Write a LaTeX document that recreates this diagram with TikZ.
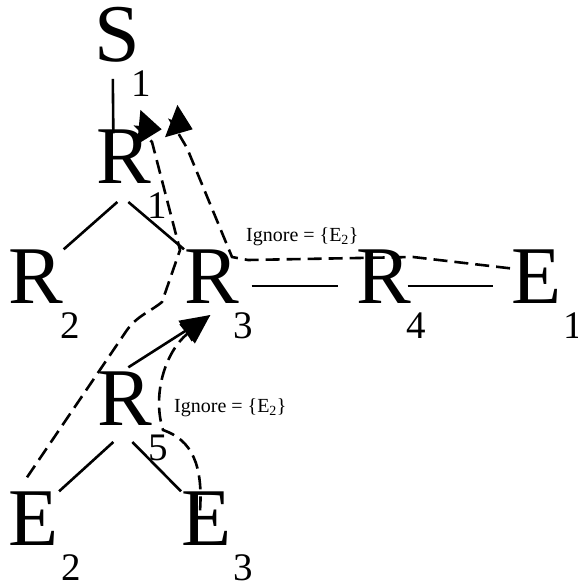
\documentclass[tikz,border=0pt]{standalone}
\usepackage{fontspec}
\setmainfont{Liberation Serif}
\usetikzlibrary{arrows.meta}

\newcommand{\bigsz}{\fontsize{82}{82}\selectfont}
\newcommand{\subsz}{\fontsize{39}{39}\selectfont}
\newcommand{\lblsz}{\fontsize{20}{20}\selectfont}
\newcommand{\subidx}[2][-3pt]{\rlap{\smash{\raisebox{-35pt}{\hspace*{#1}\subsz #2}}}}

\tikzset{
  vertex/.style={inner sep=0pt, outer sep=0pt, anchor=base west, font=\bigsz},
  link/.style={line width=2.6pt},
  walk/.style={line width=2.6pt, dash pattern=on 14pt off 7pt},
  walkarrow/.style={-{Triangle[length=23pt,width=34pt]}},
  headarrow/.style={-{Triangle[length=30pt,width=24pt]}},
  ignorelbl/.style={inner sep=0pt, anchor=base west, font=\lblsz}
}

\begin{document}
\begin{tikzpicture}[x=1pt, y=-1pt]
\useasboundingbox (0,0) rectangle (577,585);

% Draw the vertices
\node[vertex] (s1) at (94,62) {S\subidx[-8pt]{1}};
\node[vertex] (r1) at (96,183) {R\subidx{1}};
\node[vertex] (r2) at (9,303) {R\subidx{2}};
\node[vertex] (r3) at (184,303) {R\subidx[-5pt]{3}};
\node[vertex] (r4) at (356,303) {R\subidx[-4pt]{4}};
\node[vertex] (e1) at (511,303) {E\subidx[2pt]{1}};
\node[vertex] (r5) at (97,425) {R\subidx{5}};
\node[vertex] (e2) at (9,545) {E\subidx[2pt]{2}};
\node[vertex] (e3) at (181,545) {E\subidx[2pt]{3}};

% Draw the tree edges
\draw[link] ([shift={(-4,16)}]s1.south) -- ([shift={(-10,4)}]r1.north);
\draw[link] ([shift={(-6,19)}]r1.south) -- (r2.north east);
\draw[link] ([shift={(5,19)}]r1.south) -- (r3.north west);
\draw[link] ([shift={(13,10)}]r3.east) -- ([shift={(-18,10)}]r4.west);
\draw[link] ([shift={(-3,10)}]r4.east) -- ([shift={(-18,10)}]e1.west);
\draw[link] ([shift={(-11,17)}]r5.south) -- (e2.north east);
\draw[link] ([shift={(8,17)}]r5.south) -- (e3.north west);

% Solid arrow from R5 to R3
\draw[link, headarrow] ([shift={(4,-4)}]r5.north) -- ([shift={(-1,12)}]r3.south);

% Dashed walks back up the tree
\draw[walk, walkarrow] ([shift={(-7,-14)}]e2.north) -- (127,330)
  .. controls (138,315) and (150,312) .. (162,302) -- (180,250) -- (152,142)
  -- (137,127) -- ([shift={(11,0)}]r1.north east);
\draw[walk, walkarrow] ([shift={(-1,19)}]e1.north west) -- (413,257) -- (248,260)
  -- (232,257) -- (187,148) -- (171,121) -- ([shift={(42,0)}]r1.north east);
\draw[walk, headarrow] ([shift={(-6,19)}]e3.north)
  .. controls (203,465) and (192,440) .. (163,430)
  .. controls (152,395) and (165,352) .. ([shift={(-1,12)}]r3.south);

% Ignore labels
\node[ignorelbl] (ign1) at (246,241) {Ignore = \{E\textsubscript{2}\}};
\node[ignorelbl] (ign2) at (174,412) {Ignore = \{E\textsubscript{2}\}};
\end{tikzpicture}
\end{document}
